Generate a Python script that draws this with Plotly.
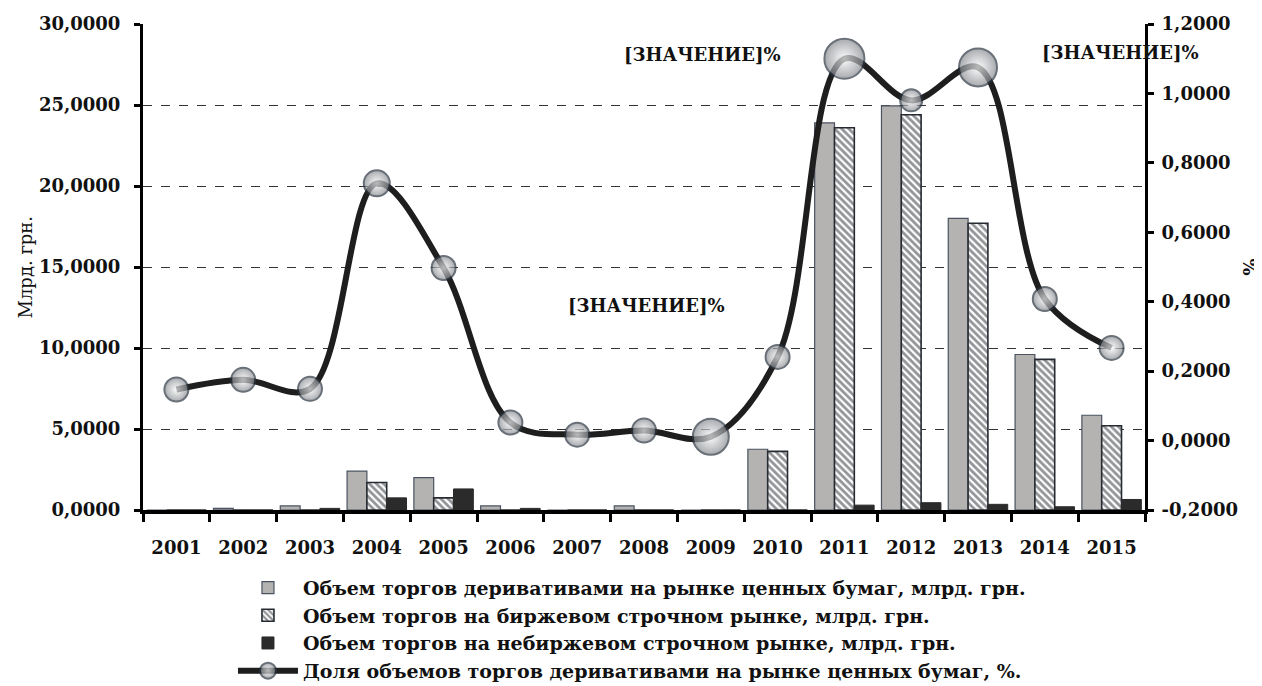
import plotly.graph_objects as go

years = ["2001", "2002", "2003", "2004", "2005", "2006", "2007", "2008",
         "2009", "2010", "2011", "2012", "2013", "2014", "2015"]
deriv_volume = [0.0, 0.10, 0.25, 2.40, 2.00, 0.25, 0.0, 0.25, 0.0, 3.75,
                23.90, 24.95, 18.00, 9.60, 5.85]
exchange_volume = [0.0, 0.0, 0.0, 1.70, 0.75, 0.0, 0.0, 0.0, 0.0, 3.62,
                   23.60, 24.40, 17.70, 9.30, 5.20]
otc_volume = [0.0, 0.0, 0.10, 0.75, 1.30, 0.10, 0.0, 0.0, 0.0, 0.0,
              0.30, 0.45, 0.35, 0.20, 0.65]
deriv_share = [0.147, 0.175, 0.149, 0.741, 0.497, 0.052, 0.017, 0.029, 0.011,
               0.241, 1.100, 0.980, 1.075, 0.408, 0.267]
marker_sizes = [24, 24, 24, 26, 24, 24, 24, 24, 36, 24, 40, 22, 38, 24, 24]

left_ticks = [0, 5, 10, 15, 20, 25, 30]
left_ticktext = ["0,0000", "5,0000", "10,0000", "15,0000", "20,0000",
                 "25,0000", "30,0000"]
right_ticks = [-0.2, 0, 0.2, 0.4, 0.6, 0.8, 1.0, 1.2]
right_ticktext = ["-0,2000", "0,0000", "0,2000", "0,4000", "0,6000",
                  "0,8000", "1,0000", "1,2000"]

names = [
    "Объем торгов деривативами на рынке ценных бумаг, млрд. грн.",
    "Объем торгов на биржевом строчном рынке, млрд. грн.",
    "Объем торгов на небиржевом строчном рынке, млрд. грн.",
    "Доля объемов торгов деривативами на рынке ценных бумаг, %.",
]
left_title = "Млрд. грн."
right_title = "%"
label_text = "[ЗНАЧЕНИЕ]%"
labelled_years = ["2011", "2013", "2009"]

FONT = "DejaVu Serif"
TXT = "#111111"

fig = go.Figure()
fig.add_trace(go.Bar(
    x=years, y=deriv_volume, name=names[0],
    marker=dict(color="#b4b3b1", line=dict(color="#4a5360", width=1.2)),
))
fig.add_trace(go.Bar(
    x=years, y=exchange_volume, name=names[1],
    marker=dict(color="#262a31", line=dict(color="#262a31", width=1.6),
                pattern=dict(shape="\\", fgcolor="#262a31", bgcolor="white",
                             size=5, solidity=0.55)),
))
fig.add_trace(go.Bar(
    x=years, y=otc_volume, name=names[2],
    marker=dict(color="#2b2b2b", line=dict(color="#2b2b2b", width=1)),
))
fig.add_trace(go.Scatter(
    x=years, y=deriv_share, name=names[3], yaxis="y2",
    mode="lines+markers",
    line=dict(color="#1e1e1e", width=6, shape="spline", smoothing=1),
    marker=dict(size=marker_sizes, color="#84888e",
                gradient=dict(type="radial", color="#fbfbfb"),
                line=dict(color="#2a3440", width=2)),
))

shifts = {"2011": (-142, 4), "2013": (142, 15), "2009": (-64, 131)}
annotations = []
for yr in labelled_years:
    i = years.index(yr)
    xs, ys = shifts[yr]
    annotations.append(dict(
        x=i, y=deriv_share[i], xref="x", yref="y2", xshift=xs, yshift=ys,
        text=label_text, showarrow=False,
        font=dict(family=FONT, size=18, color=TXT, weight="bold")))

# axis titles
annotations.append(dict(
    x=0, y=0.5, xref="paper", yref="paper", xshift=-131, text=left_title,
    textangle=-90, showarrow=False,
    font=dict(family=FONT, size=18, color=TXT)))
annotations.append(dict(
    x=1, y=0.5, xref="paper", yref="paper", xshift=117, text=right_title,
    textangle=90, showarrow=False,
    font=dict(family=FONT, size=18, color=TXT, weight="bold")))

fig.update_layout(
    width=1254, height=678,
    margin=dict(l=135, r=117, t=16, b=176, autoexpand=False),
    paper_bgcolor="white", plot_bgcolor="white",
    barmode="group", bargap=0.11, bargroupgap=0.0,
    font=dict(family=FONT, size=18, color=TXT),
    showlegend=True,
    legend=dict(xref="container", yref="container", x=0.1794, y=0.173,
                xanchor="left", yanchor="top",
                orientation="v", traceorder="normal", itemwidth=60,
                bgcolor="rgba(0,0,0,0)",
                font=dict(family=FONT, size=19, color=TXT, weight="bold")),
    xaxis=dict(
        type="category", range=[-0.5, len(years) - 0.5], automargin=False,
        showline=True, linecolor="#000", linewidth=4,
        ticks="outside", tickson="boundaries", ticklen=8, tickwidth=3,
        tickcolor="#000", showgrid=False, tickangle=0, ticklabelstandoff=18,
        tickfont=dict(family=FONT, size=18, color=TXT, weight="bold"),
    ),
    yaxis=dict(
        range=[0, 30], tickvals=left_ticks, ticktext=left_ticktext,
        automargin=False, ticklabelstandoff=10,
        showline=True, linecolor="#000", linewidth=3,
        ticks="outside", ticklen=6, tickwidth=3, tickcolor="#000",
        showgrid=True, gridcolor="#333333", griddash="dash", gridwidth=1,
        zeroline=False,
        tickfont=dict(family=FONT, size=18, color=TXT, weight="bold"),
    ),
    yaxis2=dict(
        overlaying="y", side="right", range=[-0.2, 1.2],
        tickvals=right_ticks, ticktext=right_ticktext, automargin=False,
        ticklabelstandoff=4,
        showline=True, linecolor="#000", linewidth=3,
        ticks="outside", ticklen=6, tickwidth=3, tickcolor="#000",
        showgrid=False, zeroline=False,
        tickfont=dict(family=FONT, size=18, color=TXT, weight="bold"),
    ),
    annotations=annotations,
)

fig.write_html("out.html")
